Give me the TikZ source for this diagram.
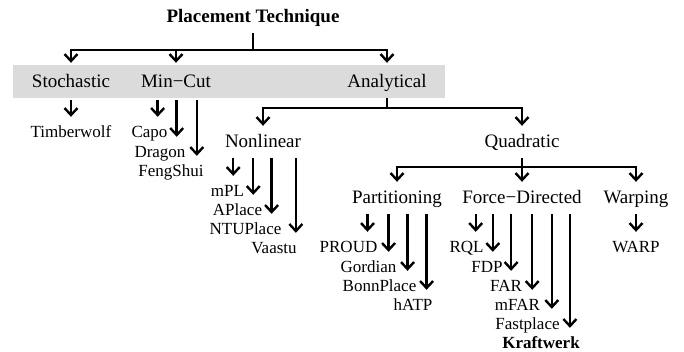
\documentclass[tikz,border=0pt]{standalone}
\usepackage{fontspec}
\setmainfont{Liberation Serif}
\usetikzlibrary{arrows.meta}
\tikzset{
  arr/.style={-{Straight Barb[length=7pt,width=13pt]}, line width=2.4pt},
  stem/.style={line width=2.4pt},
  cat/.style={inner sep=0pt, text height=21pt, text depth=11pt, font=\fontsize{19}{22}\selectfont},
  leaf/.style={inner sep=0pt, text height=20pt, text depth=10pt, font=\fontsize{17}{20}\selectfont},
}

\begin{document}
\begin{tikzpicture}[x=1pt, y=-1pt]
\useasboundingbox (0,0) rectangle (684,351);
\node[fill=gray!28, minimum width=432pt, minimum height=33pt, inner sep=0pt] (band) at (229,81.5) {};

% categories
\node[cat, font=\bfseries\fontsize{19}{22}\selectfont] (title) at (253,17) {Placement Technique};
\node[cat] (stoch) at (71,82) {Stochastic};
\node[cat] (mincut) at (176,82) {Min−Cut};
\node[cat] (analyt) at (387,82) {Analytical};
\node[cat] (nonlin) at (263,142) {Nonlinear};
\node[cat] (quad) at (522,142) {Quadratic};
\node[cat] (part) at (397,198) {Partitioning};
\node[cat] (force) at (522,198) {Force−Directed};
\node[cat] (warp) at (636,198) {Warping};

% leaves
\node[leaf] (timber) at (71,132) {Timberwolf};
\node[leaf] (capo) at (149.5,132) {Capo};
\node[leaf] (dragon) at (160,152) {Dragon};
\node[leaf] (feng) at (171,171) {FengShui};
\node[leaf] (mpl) at (227.5,191) {mPL};
\node[leaf] (aplace) at (237.5,210) {APlace};
\node[leaf] (ntu) at (245.5,229) {NTUPlace};
\node[leaf] (vaastu) at (274,248) {Vaastu};
\node[leaf] (proud) at (348.5,247) {PROUD};
\node[leaf] (gordian) at (368.5,267) {Gordian};
\node[leaf] (bonn) at (379.5,286) {BonnPlace};
\node[leaf] (hatp) at (413,305) {hATP};
\node[leaf] (rql) at (466.5,247) {RQL};
\node[leaf] (fdp) at (487,267) {FDP};
\node[leaf] (far) at (506,286) {FAR};
\node[leaf] (mfar) at (517.5,305) {mFAR};
\node[leaf] (fastp) at (527.5,324) {Fastplace};
\node[leaf, font=\bfseries\fontsize{17}{20}\selectfont] (kraft) at (541,343) {Kraftwerk};
\node[leaf] (warpl) at (636,247) {WARP};

% junctions
\coordinate (j0) at (253,50);
\coordinate (ja) at (387,108);
\coordinate (jq) at (522,167);

\draw[stem] (title.south) -- (j0);
\foreach \n in {stoch,mincut,analyt}
  \draw[arr, shorten >=3pt] (j0) -| (\n);
\draw[stem] (band.south -| ja) -- (ja);
\draw[arr] (ja) -| (nonlin);
\draw[arr] (ja) -| (quad);
\draw[stem] (quad.south) -- (jq);
\foreach \n in {part,force,warp}
  \draw[arr] (jq) -| (\n);

% leaf arrows
\draw[arr, shorten <=2pt] (band.south -| timber) -- (timber);
\foreach \n/\d in {capo/10, dragon/9, feng/7} {
  \coordinate (\n-t) at ([xshift=-\d pt]\n.north east);
  \draw[arr, shorten <=2pt] (band.south -| \n-t) -- (\n-t);
}
\foreach \n/\d in {mpl/11, aplace/9, ntu/10, vaastu/1} {
  \coordinate (\n-t) at ([xshift=-\d pt]\n.north east);
  \draw[arr] (nonlin.south -| \n-t) -- (\n-t);
}
\foreach \n/\d in {proud/10, gordian/8, bonn/9, hatp/6} {
  \coordinate (\n-t) at ([xshift=-\d pt]\n.north east);
  \draw[arr] (part.south -| \n-t) -- (\n-t);
}
\foreach \n/\d in {rql/8, fdp/10, far/11, mfar/8, fastp/8, kraft/10} {
  \coordinate (\n-t) at ([xshift=-\d pt]\n.north east);
  \draw[arr] (force.south -| \n-t) -- (\n-t);
}
\draw[arr] (warp) -- (warpl);
\end{tikzpicture}
\end{document}
